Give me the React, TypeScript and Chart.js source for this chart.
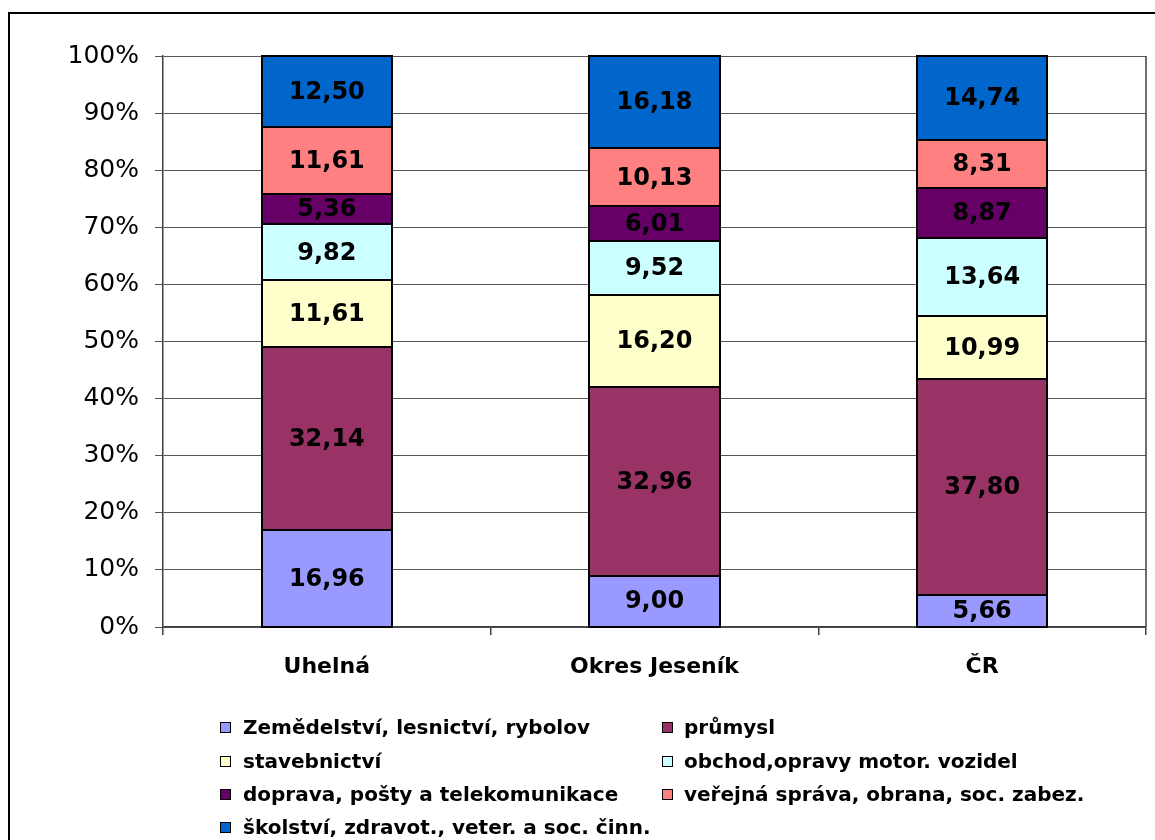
import React, { useEffect, useRef } from "react";
import { Chart, registerables } from "chart.js";

Chart.register(...registerables);

const categories = ["Uhelná", "Okres Jeseník", "ČR"];
const seriesNames = [
  "Zemědelství, lesnictví, rybolov",
  "průmysl",
  "stavebnictví",
  "obchod,opravy motor. vozidel",
  "doprava, pošty a telekomunikace",
  "veřejná správa, obrana, soc. zabez.",
  "školství, zdravot., veter. a soc. činn.",
];
const zemedelstvi = [16.96, 9.0, 5.66];
const prumysl = [32.14, 32.96, 37.8];
const stavebnictvi = [11.61, 16.2, 10.99];
const obchod = [9.82, 9.52, 13.64];
const doprava = [5.36, 6.01, 8.87];
const verejna = [11.61, 10.13, 8.31];
const skolstvi = [12.5, 16.18, 14.74];
const seriesValues = [zemedelstvi, prumysl, stavebnictvi, obchod, doprava, verejna, skolstvi];
const seriesColors = ["#9999FF", "#993366", "#FFFFCC", "#CCFFFF", "#660066", "#FF8080", "#0066CC"];
const yTicks = [0, 10, 20, 30, 40, 50, 60, 70, 80, 90, 100];

const FONT = "'DejaVu Sans', Verdana, sans-serif";

const framePlugin = {
  id: "frame",
  beforeDraw(chart: any) {
    const ctx = chart.ctx;
    ctx.save();
    ctx.fillStyle = "#ffffff";
    ctx.fillRect(0, 0, chart.width, chart.height);
    ctx.strokeStyle = "#000000";
    ctx.lineWidth = 2;
    ctx.strokeRect(9, 13, chart.width + 20, chart.height + 20);
    ctx.restore();
  },
  afterDraw(chart: any) {
    const ctx = chart.ctx;
    const a = chart.chartArea;
    ctx.save();
    ctx.strokeStyle = "#404040";
    ctx.lineWidth = 1.5;
    ctx.beginPath();
    ctx.moveTo(a.right, a.top);
    ctx.lineTo(a.right, a.bottom);
    ctx.stroke();
    ctx.restore();
  },
};

const labelPlugin = {
  id: "segLabels",
  afterDatasetsDraw(chart: any) {
    const ctx = chart.ctx;
    ctx.save();
    const n = chart.data.labels.length;
    const last = chart.data.datasets.length - 1;
    ctx.strokeStyle = "#000000";
    ctx.lineWidth = 2;
    // segment dividers
    for (let di = 0; di < last; di++) {
      const meta = chart.getDatasetMeta(di);
      meta.data.forEach((el: any) => {
        const w = el.width;
        const y = Math.round(el.y);
        ctx.beginPath();
        ctx.moveTo(el.x - w / 2, y);
        ctx.lineTo(el.x + w / 2, y);
        ctx.stroke();
      });
    }
    // outline each full stacked bar
    for (let i = 0; i < n; i++) {
      const bottom = chart.getDatasetMeta(0).data[i] as any;
      const top = chart.getDatasetMeta(last).data[i] as any;
      const w = bottom.width;
      const x0 = Math.round(bottom.x - w / 2);
      const x1 = Math.round(bottom.x + w / 2);
      const y0 = Math.round(top.y);
      const y1 = Math.round(bottom.base);
      ctx.strokeRect(x0, y0, x1 - x0, y1 - y0);
    }
    ctx.font = `bold 24px ${FONT}`;
    ctx.fillStyle = "#000000";
    ctx.textAlign = "center";
    ctx.textBaseline = "middle";
    chart.data.datasets.forEach((ds: any, di: number) => {
      const meta = chart.getDatasetMeta(di);
      meta.data.forEach((el: any, i: number) => {
        const p = el.getCenterPoint();
        const txt = Number(ds.data[i]).toFixed(2).replace(".", ",");
        ctx.fillText(txt, p.x, p.y + 1);
      });
    });
    ctx.restore();
  },
};

const legendPlugin = {
  id: "customLegend",
  afterDraw(chart: any) {
    const ctx = chart.ctx;
    const colX = [[220, 243], [662, 684]];
    const rowY = [728, 762, 795, 828];
    ctx.save();
    ctx.font = `bold 20px ${FONT}`;
    ctx.textBaseline = "middle";
    ctx.textAlign = "left";
    chart.data.datasets.forEach((ds: any, i: number) => {
      const col = i % 2;
      const row = Math.floor(i / 2);
      const [bx, tx] = colX[col];
      const y = rowY[row];
      ctx.fillStyle = ds.backgroundColor;
      ctx.fillRect(bx, y - 6, 11, 11);
      ctx.strokeStyle = "#000000";
      ctx.lineWidth = 1;
      ctx.strokeRect(bx + 0.5, y - 5.5, 10, 10);
      ctx.fillStyle = "#000000";
      ctx.fillText(ds.label, tx, y + 1);
    });
    ctx.restore();
  },
};

export default function App() {
  const ref = useRef<HTMLCanvasElement | null>(null);
  useEffect(() => {
    document.body.style.margin = "0";
    const canvas = ref.current;
    if (!canvas) return;
    const chart = new Chart(canvas, {
      type: "bar",
      data: {
        labels: categories,
        datasets: seriesNames.map((name, i) => ({
          label: name,
          data: seriesValues[i],
          backgroundColor: seriesColors[i],
          borderWidth: 0,
          categoryPercentage: 1,
          barPercentage: 0.397,
        })),
      },
      options: {
        animation: false,
        responsive: false,
        devicePixelRatio: 1,
        layout: { padding: { top: 56, right: 9, left: 0, bottom: 0 } },
        plugins: {
          legend: { display: false },
          tooltip: { enabled: false },
          title: { display: false },
        },
        scales: {
          x: {
            stacked: true,
            afterFit(scale: any) {
              scale.height = 213;
            },
            grid: {
              offset: true,
              drawOnChartArea: false,
              drawTicks: true,
              tickLength: 8,
              color: "#404040",
              lineWidth: 1.5,
            },
            border: { display: true, color: "#404040", width: 1.5 },
            ticks: {
              color: "#000000",
              font: { family: FONT, size: 22, weight: "bold" },
              padding: 19,
              maxRotation: 0,
            },
          },
          y: {
            stacked: true,
            min: 0,
            max: 100,
            afterFit(scale: any) {
              scale.width = 163;
            },
            afterBuildTicks(scale: any) {
              scale.ticks = yTicks.map((v) => ({ value: v }));
            },
            grid: {
              color: "#555555",
              lineWidth: 1,
              tickLength: 8,
              drawTicks: true,
            },
            border: { display: true, color: "#404040", width: 1.5 },
            ticks: {
              color: "#000000",
              font: { family: FONT, size: 25 },
              padding: 16,
              callback: (v: any) => `${v}%`,
            },
          },
        },
      },
      plugins: [framePlugin, labelPlugin, legendPlugin],
    });
    return () => chart.destroy();
  }, []);
  return (
    <div style={{ width: 1155, height: 840, overflow: "hidden" }}>
      <canvas ref={ref} width={1155} height={840} style={{ display: "block" }} />
    </div>
  );
}
